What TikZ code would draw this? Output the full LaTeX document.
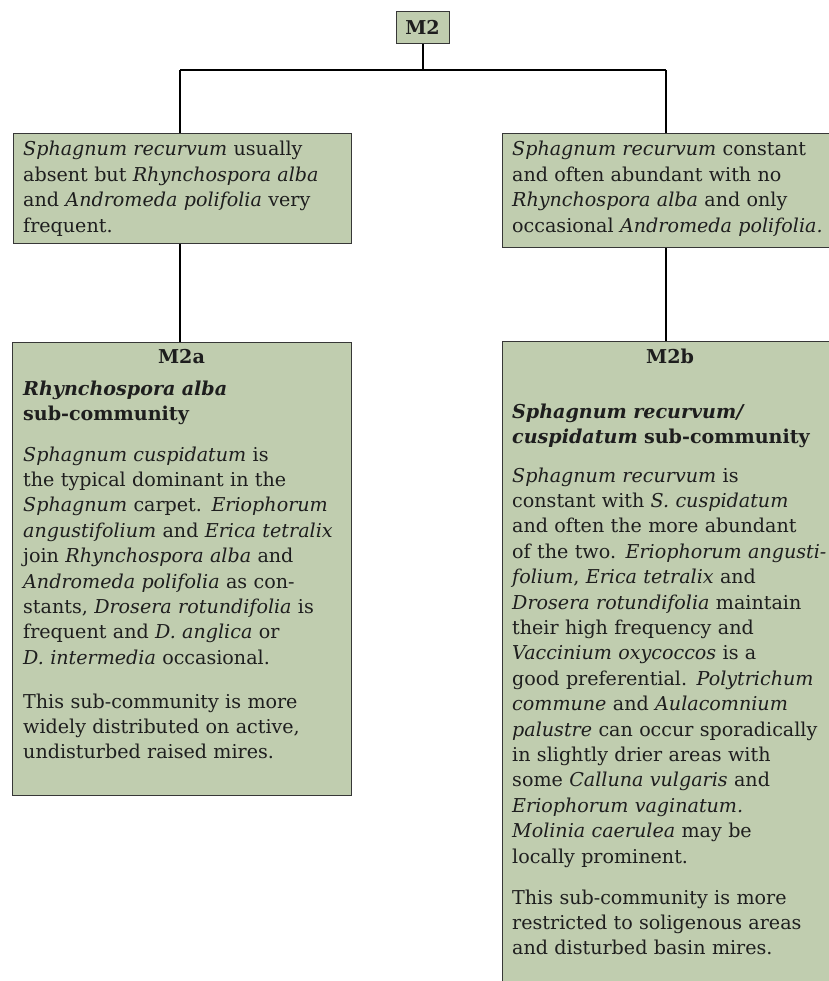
\documentclass[tikz,border=0pt]{standalone}
\usepackage{fontspec}
\setmainfont{DejaVu Serif}
\definecolor{sage}{RGB}{192,205,175}
\definecolor{edge}{RGB}{55,55,55}
\definecolor{ink}{RGB}{30,30,30}
\tikzset{
  x=1pt, y=1pt,
  box/.style={draw=edge, line width=1.2pt, fill=sage, rectangle, anchor=north west, inner sep=0pt},
  conn/.style={draw=black, line width=2pt},
  txt/.style={anchor=base west, inner sep=0pt, text width=330pt, align=left, text=ink,
              font=\fontsize{19.1}{25.4}\selectfont},
  head/.style={anchor=base, inner sep=0pt, text=ink, font=\fontsize{19.1}{25.4}\selectfont\bfseries}
}
\begin{document}
\begin{tikzpicture}
\useasboundingbox (0,0) rectangle (828,-981);
% boxes
\node[box, minimum width=53pt, minimum height=32pt] (m2) at (396,-11) {};
\node[head] (m2t) at (422.5,-35) {M2};
\node[box, minimum width=338pt, minimum height=110pt] (l1) at (13,-133) {};
\node[box, minimum width=340pt, minimum height=114pt] (r1) at (502,-133) {};
\node[box, minimum width=339pt, minimum height=453pt] (m2a) at (12,-342) {};
\node[box, minimum width=340pt, minimum height=660pt] (m2b) at (502,-341) {};
% connectors
\coordinate (jl) at (180,-70);
\coordinate (jr) at (666,-70);
\coordinate (jm) at (m2.south |- jl);
\draw[conn] (m2.south) -- (jm);
\draw[conn] (jl) -- (jr);
\draw[conn] (jl) -- (jl |- l1.north);
\draw[conn] (jr) -- (jr |- r1.north);
\draw[conn] (jl |- l1.south) -- (jl |- m2a.north);
\draw[conn] (jr |- r1.south) -- (jr |- m2b.north);
% top texts
\node[txt] (l1t) at (23,-156) {\textit{Sphagnum recurvum} usually\\
absent but \textit{Rhynchospora alba}\\
and \textit{Andromeda polifolia} very\\
frequent.};
\node[txt] (r1t) at (512,-156) {\textit{Sphagnum recurvum} constant\\
and often abundant with no\\
\textit{Rhynchospora alba} and only\\
occasional \textit{Andromeda polifolia.}};
% M2a
\node[head] (m2ah) at (181.5,-363) {M2a};
\node[txt] (m2att) at (23,-395) {\textbf{\textit{Rhynchospora alba}}\\
\textbf{sub-community}};
\node[txt] (m2ap1) at (23,-461) {\textit{Sphagnum cuspidatum} is\\
the typical dominant in the\\
\textit{Sphagnum} carpet. \textit{Eriophorum}\\
\textit{angustifolium} and \textit{Erica tetralix}\\
join \textit{Rhynchospora alba} and\\
\textit{Andromeda polifolia} as con-\\
stants, \textit{Drosera rotundifolia} is\\
frequent and \textit{D. anglica} or\\
\textit{D. intermedia} occasional.};
\node[txt] (m2ap2) at (23,-708) {This sub-community is more\\
widely distributed on active,\\
undisturbed raised mires.};
% M2b
\node[head] (m2bh) at (670,-363) {M2b};
\node[txt] (m2btt) at (512,-418) {\textbf{\textit{Sphagnum recurvum/}}\\
\textbf{\textit{cuspidatum} sub-community}};
\node[txt] (m2bp1) at (512,-482) {\textit{Sphagnum recurvum} is\\
constant with \textit{S. cuspidatum}\\
and often the more abundant\\
of the two. \textit{Eriophorum angusti-}\\
\textit{folium}, \textit{Erica tetralix} and\\
\textit{Drosera rotundifolia} maintain\\
their high frequency and\\
\textit{Vaccinium oxycoccos} is a\\
good preferential. \textit{Polytrichum}\\
\textit{commune} and \textit{Aulacomnium}\\
\textit{palustre} can occur sporadically\\
in slightly drier areas with\\
some \textit{Calluna vulgaris} and\\
\textit{Eriophorum vaginatum.}\\
\textit{Molinia caerulea} may be\\
locally prominent.};
\node[txt] (m2bp2) at (512,-904) {This sub-community is more\\
restricted to soligenous areas\\
and disturbed basin mires.};
\end{tikzpicture}
\end{document}
